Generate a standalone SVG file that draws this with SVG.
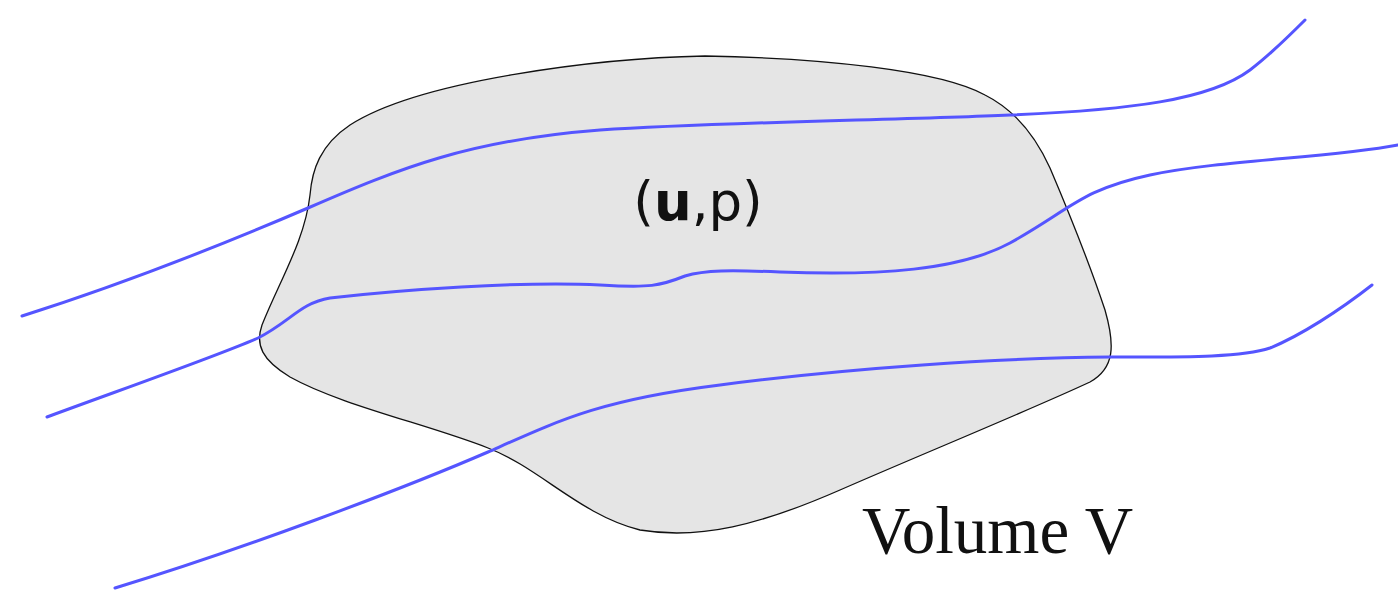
<svg xmlns="http://www.w3.org/2000/svg" width="1398" height="594" viewBox="0 0 1398 594">
<style>
.flow{fill:none;stroke:#5555ff;stroke-width:3;stroke-linecap:round}
.vol{fill:#e5e5e5;stroke:#111;stroke-width:1.3}
</style>
<rect width="1398" height="594" fill="#fff"/>
<g id="volume">
<path class="vol" d="M705,56 C600,58 420,80 350,125 C320,145 312,170 310,195 C305,240 280,280 262,325 C255,345 262,360 290,377 C340,405 430,425 488,448 C540,468 580,515 640,530 C700,540 760,525 840,490 C920,455 1030,410 1090,382 C1115,368 1115,345 1105,310 C1090,265 1070,215 1050,168 C1035,135 1015,110 985,95 C940,70 820,58 705,56 Z"/>
</g>
<g id="flowlines">
<path class="flow" d="M22,316 C120,285 210,250 308,208 C400,168 470,140 600,130 C720,122 900,120 1010,115 C1130,110 1210,100 1250,70 C1270,55 1290,35 1305,20"/>
<path class="flow" d="M47,417 C120,390 220,355 258,338 C290,322 300,303 330,298 C400,290 520,281 600,285 C650,288 660,286 685,276 C705,270 730,270 780,272 C880,276 960,270 1010,243 C1070,210 1080,190 1150,175 C1220,160 1330,158 1398,145"/>
<path class="flow" d="M115,588 C240,550 400,490 488,452 C560,420 600,400 720,385 C850,368 1000,358 1110,357 C1180,357 1240,358 1270,348 C1300,336 1340,310 1372,285"/>
</g>
<g id="labels">
<text x="698" y="220" font-family="DejaVu Sans, sans-serif" font-size="53" text-anchor="middle" fill="#111">(<tspan font-weight="bold">u</tspan>,p)</text>
<text x="862" y="553" font-family="Liberation Serif, serif" font-size="67" fill="#111">Volume V</text>
</g>
</svg>
